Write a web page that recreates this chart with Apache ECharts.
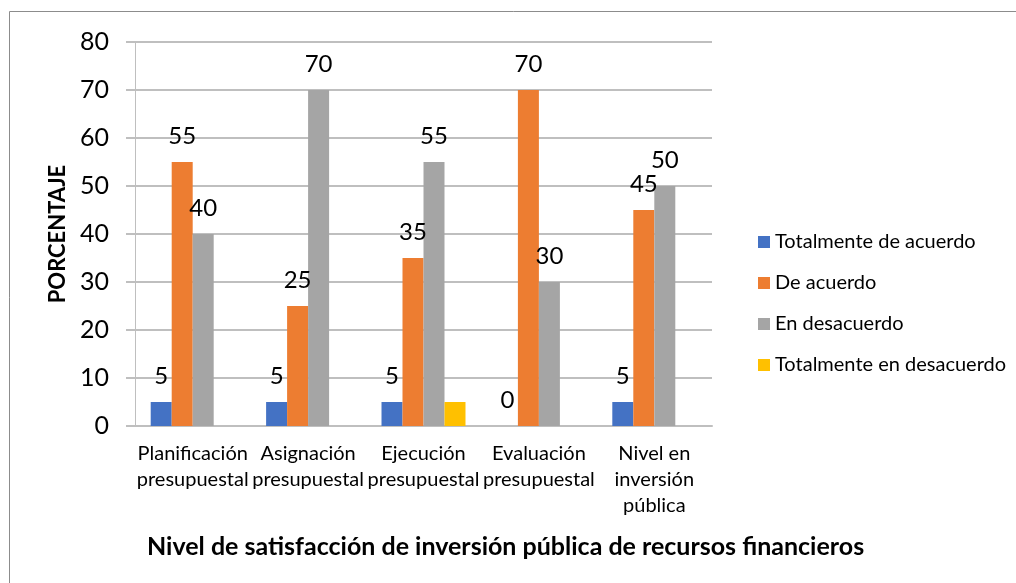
<!DOCTYPE html>
<html>
<head>
<meta charset="utf-8">
<script src="https://cdn.jsdelivr.net/npm/echarts@6/dist/echarts.min.js"></script>
<style>
  html, body { margin: 0; padding: 0; background: #fff; }
  #chart { width: 1016px; height: 583px; }
</style>
</head>
<body>
<div id="chart"></div>
<script>
const categories = [
  "Planificación\npresupuestal",
  "Asignación\npresupuestal",
  "Ejecución\npresupuestal",
  "Evaluación\npresupuestal",
  "Nivel en\ninversión\npública"
];
const seriesNames = ["Totalmente de acuerdo", "De acuerdo", "En desacuerdo", "Totalmente en desacuerdo"];
const totalmenteDeAcuerdo = [5, 5, 5, 0, 5];
const deAcuerdo = [55, 25, 35, 70, 45];
const enDesacuerdo = [40, 70, 55, 30, 50];
const totalmenteEnDesacuerdo = [0, 0, 5, 0, 0];
const colors = ["#4472C4", "#ED7D31", "#A5A5A5", "#FFC000"];

const FONT = "Lato";
const chart = echarts.init(document.getElementById("chart"));

function barSeries(name, data, color, showLabel) {
  return {
    name: name,
    type: "bar",
    data: data,
    barWidth: 21,
    barGap: "0%",
    itemStyle: { color: color },
    label: {
      show: showLabel,
      position: "top",
      distance: 14,
      color: "#000",
      fontFamily: FONT,
      fontSize: 24
    }
  };
}

chart.setOption({
  animation: false,
  graphic: [{
    type: "rect",
    shape: { x: 9.5, y: 11.5, width: 1100, height: 700 },
    style: { fill: "none", stroke: "#8c8c8c", lineWidth: 1 },
    silent: true
  }],
  title: {
    text: "Nivel de satisfacción de inversión pública de recursos financieros",
    left: 142,
    top: 529,
    textStyle: { fontFamily: FONT, fontSize: 25, fontWeight: "bold", color: "#000" }
  },
  legend: {
    orient: "vertical",
    left: 753,
    top: 227,
    itemWidth: 12,
    itemHeight: 12,
    itemGap: 21,
    icon: "rect",
    data: seriesNames,
    textStyle: { fontFamily: FONT, fontSize: 20, color: "#000", padding: [0, 0, 0, 0] }
  },
  grid: { left: 135, right: 304, top: 42, bottom: 157, containLabel: false },
  xAxis: {
    type: "category",
    data: categories,
    axisLine: { show: true, lineStyle: { color: "#bfbfbf", width: 2 } },
    axisTick: { show: false },
    axisLabel: {
      interval: 0,
      margin: 15,
      color: "#000",
      fontFamily: FONT,
      fontSize: 20,
      lineHeight: 26
    }
  },
  yAxis: {
    type: "value",
    min: 0,
    max: 80,
    interval: 10,
    name: "PORCENTAJE",
    nameLocation: "middle",
    nameGap: 65,
    nameTextStyle: { fontFamily: FONT, fontSize: 22, fontWeight: "bold", color: "#000" },
    axisLine: { show: true, lineStyle: { color: "#bfbfbf", width: 1 } },
    axisTick: { show: true, length: 9, lineStyle: { color: "#bfbfbf", width: 2 } },
    splitLine: { show: true, lineStyle: { color: "#bfbfbf", width: 2 } },
    axisLabel: { margin: 26, color: "#000", fontFamily: FONT, fontSize: 25 }
  },
  series: [
    barSeries(seriesNames[0], totalmenteDeAcuerdo, colors[0], true),
    barSeries(seriesNames[1], deAcuerdo, colors[1], true),
    barSeries(seriesNames[2], enDesacuerdo, colors[2], true),
    barSeries(seriesNames[3], totalmenteEnDesacuerdo, colors[3], false)
  ]
});
</script>
</body>
</html>
